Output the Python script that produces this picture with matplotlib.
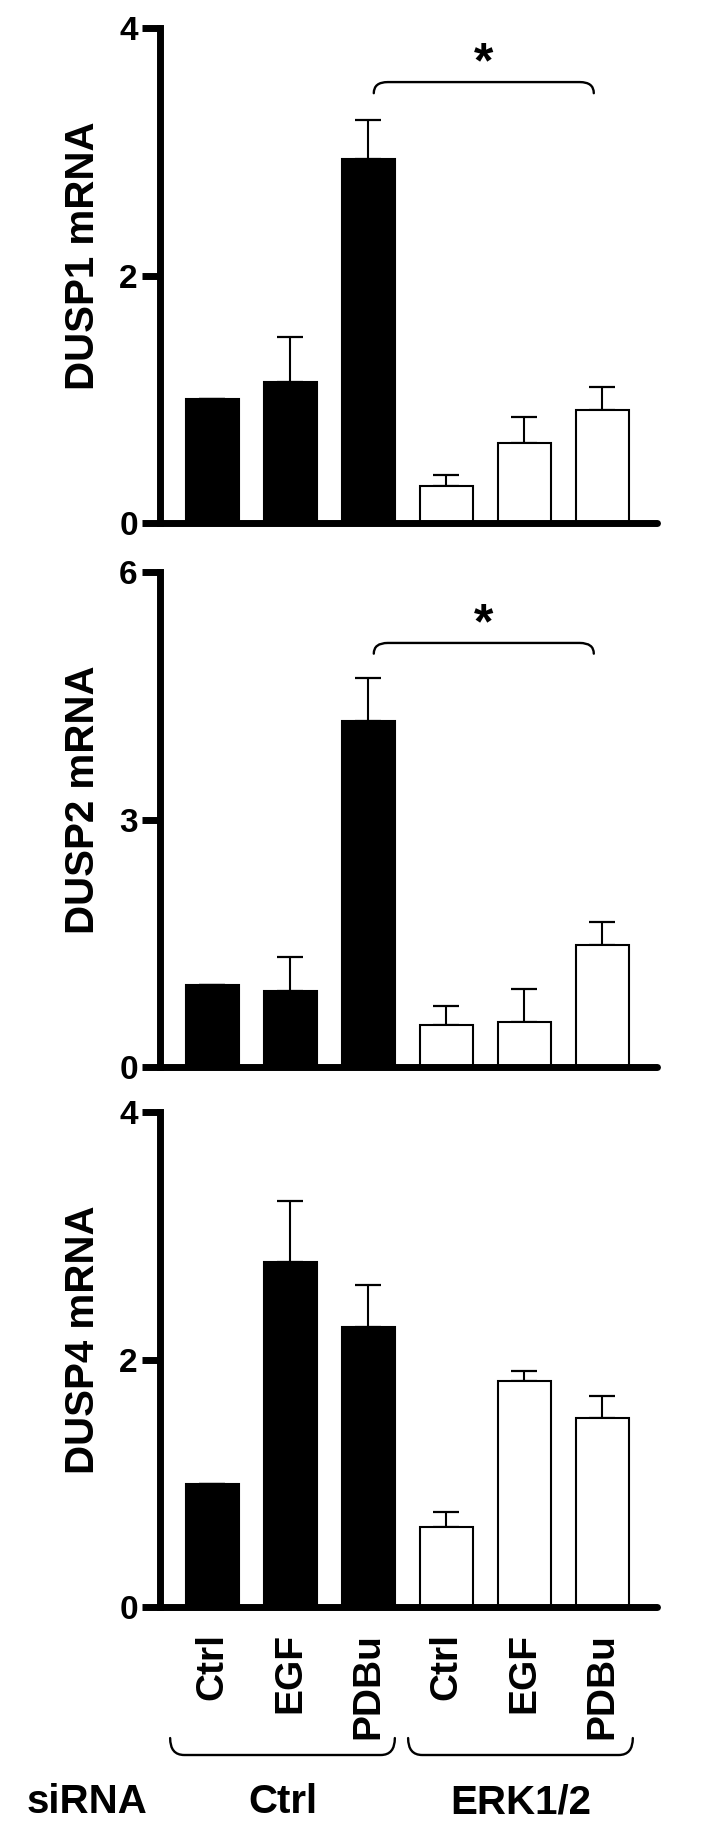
import matplotlib
matplotlib.use('Agg')
import matplotlib.pyplot as plt
from matplotlib.path import Path
from matplotlib.patches import PathPatch

plt.rcParams['font.family'] = ['Liberation Sans', 'DejaVu Sans']
plt.rcParams['font.weight'] = 'bold'

# ---------------- data ----------------
treatments = ['Ctrl', 'EGF', 'PDBu', 'Ctrl', 'EGF', 'PDBu']
sirna_groups = ['Ctrl', 'ERK1/2']
bar_colors = ['black', 'black', 'black', 'white', 'white', 'white']

dusp1_mean = [1.00, 1.14, 2.94, 0.30, 0.65, 0.91]
dusp1_sem = [0.0, 0.365, 0.315, 0.09, 0.205, 0.19]
dusp2_mean = [1.00, 0.92, 4.19, 0.505, 0.545, 1.48]
dusp2_sem = [0.0, 0.415, 0.525, 0.23, 0.405, 0.275]
dusp4_mean = [0.99, 2.785, 2.263, 0.646, 1.829, 1.527]
dusp4_sem = [0.0, 0.493, 0.342, 0.122, 0.078, 0.175]

ylabels = ['DUSP1 mRNA', 'DUSP2 mRNA', 'DUSP4 mRNA']
ymaxes = [4, 6, 4]
yticks = [[0, 2, 4], [0, 3, 6], [0, 2, 4]]
means = [dusp1_mean, dusp2_mean, dusp4_mean]
sems = [dusp1_sem, dusp2_sem, dusp4_sem]
# significance brackets (x start, x end, y of bar, drop) per panel; None = no bracket
sig = [(2.07, 4.89, 3.563, 0.09), (2.07, 4.89, 5.14, 0.13), None]

# ---------------- figure ----------------
W, H = 704, 1825
fig = plt.figure(figsize=(W / 100, H / 100), dpi=100)
left = 160 / W
width = (657 - 160) / W
panel_px = [(28, 523), (572, 1067), (1112, 1607)]
x = list(range(len(treatments)))


def bracket(ax, x0, x1, ytop, yend, rx, lw=1.7):
    verts = [(x0, yend), (x0, ytop), (x0 + rx, ytop),
             (x1 - rx, ytop), (x1, ytop), (x1, yend)]
    codes = [Path.MOVETO, Path.CURVE3, Path.CURVE3,
             Path.LINETO, Path.CURVE3, Path.CURVE3]
    ax.add_patch(PathPatch(Path(verts, codes), fill=False, lw=lw,
                           edgecolor='black', clip_on=False,
                           capstyle='round'))


axes = []
for i in range(3):
    top_px, bot_px = panel_px[i]
    ax = fig.add_axes([left, 1 - bot_px / H, width, (bot_px - top_px) / H])
    axes.append(ax)
    ax.bar(x, means[i], width=0.68, color=bar_colors, edgecolor='black',
           linewidth=1.5, zorder=2)
    ax.errorbar(x, means[i], yerr=[[0] * 6, sems[i]], fmt='none',
                ecolor='black', elinewidth=1.5, capsize=9.6, capthick=1.6,
                zorder=1)
    ax.set_xlim(-0.67, 5.70)
    ax.set_ylim(0, ymaxes[i])
    ax.set_yticks(yticks[i])
    ax.set_yticklabels([str(t) for t in yticks[i]])
    ax.set_xticks([])
    for s in ['top', 'right']:
        ax.spines[s].set_visible(False)
    for s in ['left', 'bottom']:
        ax.spines[s].set_linewidth(5)
        ax.spines[s].set_zorder(3)
    ax.spines['bottom'].set_capstyle('round')
    ax.tick_params(axis='y', length=13, width=5, pad=3, labelsize=24)
    ax.text(-0.155, 0.54, ylabels[i], transform=ax.transAxes, rotation=90,
            ha='center', va='center', fontsize=29, fontweight='bold')
    if sig[i] is not None:
        x0, x1, yb, drop = sig[i]
        bracket(ax, x0, x1, yb, yb - drop, 0.18)
        ax.text((x0 + x1) / 2, yb + 0.04 * ymaxes[i] / 4, '*',
                ha='center', va='baseline', fontsize=36, fontweight='bold')

# bottom labels on last panel
ax = axes[2]
for xi, lab in zip(x, treatments):
    ax.text(xi, -0.21, lab, rotation=90, ha='center', va='top',
            fontsize=28, fontweight='bold', clip_on=False)
bracket(ax, -0.54, 2.34, -1.196, -1.059, 0.18)
bracket(ax, 2.51, 5.39, -1.196, -1.059, 0.18)
ax.text(-1.61, -1.665, 'siRNA', ha='center', va='baseline', fontsize=29,
        fontweight='bold', clip_on=False)
ax.text(0.90, -1.665, sirna_groups[0], ha='center', va='baseline',
        fontsize=29, fontweight='bold', clip_on=False)
ax.text(3.95, -1.665, sirna_groups[1], ha='center', va='baseline',
        fontsize=29, fontweight='bold', clip_on=False)

fig.savefig('out.png', dpi=100)
